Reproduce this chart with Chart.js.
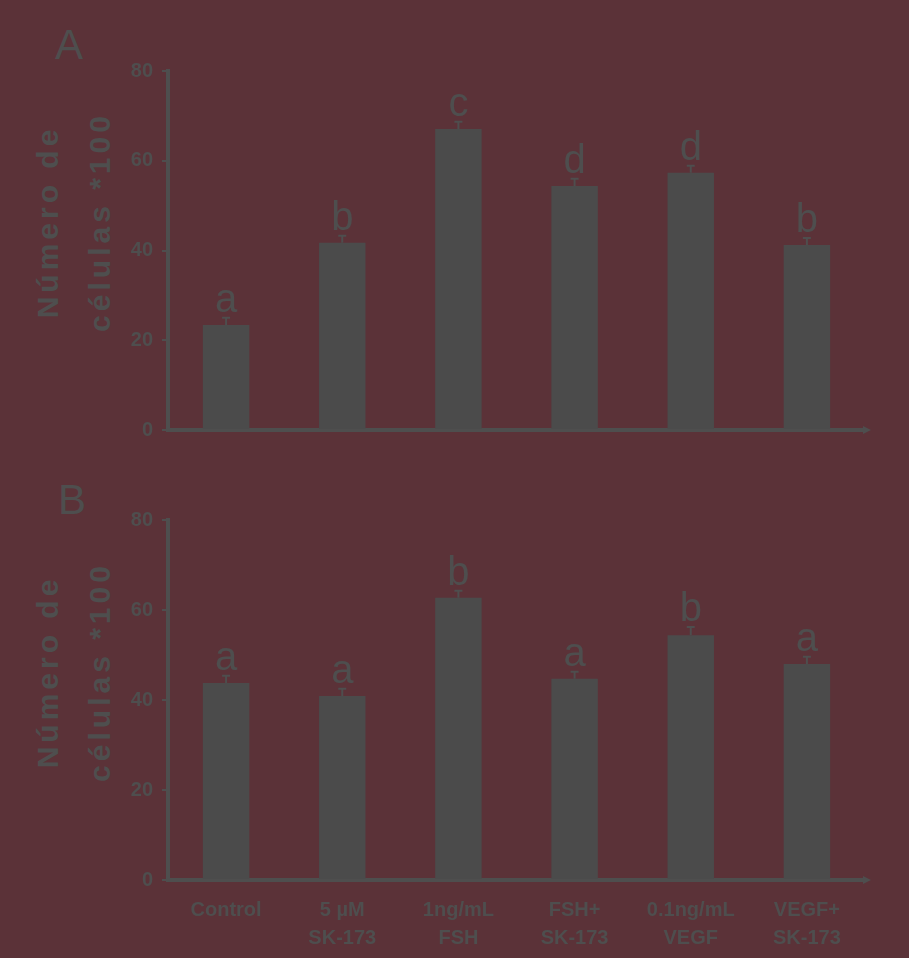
<!DOCTYPE html>
<html>
<head>
<meta charset="utf-8">
<script src="https://cdn.jsdelivr.net/npm/chart.js@4.4.1/dist/chart.umd.min.js"></script>
<style>
  html, body { margin: 0; padding: 0; background: #5b3238; }
  #wrap { position: relative; width: 909px; height: 958px; overflow: hidden; background: #5b3238; }
  canvas { position: absolute; left: 0; }
  .panel { position: absolute; font-family: "Liberation Sans", Arial, sans-serif; color: #4e4e4e; font-size: 42px; line-height: 1; }
  .ytitle { position: absolute; font-family: "Liberation Sans", Arial, sans-serif; color: #4e4e4e; font-weight: bold;
            font-size: 30px; letter-spacing: 4px; line-height: 52px; text-align: center; white-space: nowrap;
            transform: translate(-50%, -50%) rotate(-90deg); }
</style>
</head>
<body>
<div id="wrap">
  <div class="panel" style="left:55px; top:24px;">A</div>
  <div class="ytitle" style="left:74px; top:222px;">Número de<br>células *100</div>
  <canvas id="chartA" width="909" height="470" style="top:0px;"></canvas>

  <div class="panel" style="left:58px; top:479px;">B</div>
  <div class="ytitle" style="left:74px; top:672px;">Número de<br>células *100</div>
  <canvas id="chartB" width="909" height="488" style="top:470px;"></canvas>
</div>
<script>
// Treatments along the x axis
const categories = [
  ["Control"],
  ["5 µM", "SK-173"],
  ["1ng/mL", "FSH"],
  ["FSH+", "SK-173"],
  ["0.1ng/mL", "VEGF"],
  ["VEGF+", "SK-173"]
];

// Panel A: cell counts (x100), error and significance groups
const cellsA   = [23.4, 41.7, 67.1, 54.4, 57.3, 41.2];
const errorsA  = [1.6, 1.6, 1.6, 1.6, 1.6, 1.6];
const lettersA = ["a", "b", "c", "d", "d", "b"];

// Panel B: cell counts (x100), error and significance groups
const cellsB   = [43.8, 40.9, 62.7, 44.7, 54.4, 48.0];
const errorsB  = [1.6, 1.6, 1.6, 1.6, 1.8, 1.6];
const lettersB = ["a", "a", "b", "a", "b", "a"];

// Value axis
const yTicks = [0, 20, 40, 60, 80];

const INK = "#4e4e4e";
const BAR = "#4b4b4b";
const FONT = '"Liberation Sans", Arial, sans-serif';

// Draws error caps, group letters above bars and an arrowhead on the x axis
const annotate = {
  id: "annotate",
  afterDatasetsDraw(chart, args, opts) {
    const ctx = chart.ctx;
    const y = chart.scales.y;
    const meta = chart.getDatasetMeta(0);
    ctx.save();
    ctx.strokeStyle = INK;
    ctx.fillStyle = INK;
    ctx.lineWidth = 2;
    meta.data.forEach((bar, i) => {
      const v = opts.values[i], e = opts.errors[i];
      const top = y.getPixelForValue(v + e);
      ctx.beginPath();
      ctx.moveTo(bar.x, y.getPixelForValue(v));
      ctx.lineTo(bar.x, top);
      ctx.moveTo(bar.x - 4, top);
      ctx.lineTo(bar.x + 4, top);
      ctx.stroke();
      ctx.font = "40px " + FONT;
      ctx.textAlign = "center";
      ctx.textBaseline = "alphabetic";
      ctx.fillText(opts.letters[i], bar.x, top - 6);
    });
    const { right, bottom } = chart.chartArea;
    ctx.beginPath();
    ctx.moveTo(right + 6, bottom);
    ctx.lineTo(right - 2, bottom - 4);
    ctx.lineTo(right - 2, bottom + 4);
    ctx.closePath();
    ctx.fill();
    ctx.restore();
  }
};

function makeChart(id, values, errors, letters, padTop, xHeight, showX) {
  return new Chart(document.getElementById(id), {
    type: "bar",
    data: {
      labels: categories,
      datasets: [{
        data: values,
        backgroundColor: BAR,
        borderWidth: 0,
        barPercentage: 0.4,
        categoryPercentage: 1.0
      }]
    },
    options: {
      responsive: false,
      animation: false,
      devicePixelRatio: 1,
      layout: { padding: { top: padTop, right: 44, left: 0, bottom: 0 } },
      plugins: {
        legend: { display: false },
        tooltip: { enabled: false },
        annotate: { values: values, errors: errors, letters: letters }
      },
      scales: {
        x: {
          grid: { display: false, drawTicks: false },
          border: { display: true, color: INK, width: 4 },
          ticks: {
            display: showX,
            color: INK,
            font: { family: FONT, size: 20, weight: "bold", lineHeight: 1.4 },
            padding: 16,
            maxRotation: 0,
            autoSkip: false
          },
          afterFit(scale) { scale.height = xHeight; }
        },
        y: {
          min: yTicks[0],
          max: yTicks[yTicks.length - 1],
          afterBuildTicks(scale) { scale.ticks = yTicks.map(v => ({ value: v })); },
          grid: { display: true, drawOnChartArea: false, drawTicks: true, tickLength: 6, color: INK, lineWidth: 2 },
          border: { display: true, color: INK, width: 4 },
          ticks: { color: INK, font: { family: FONT, size: 20, weight: "bold" }, padding: 9 },
          afterFit(scale) { scale.width = 168; }
        }
      }
    },
    plugins: [annotate]
  });
}

makeChart("chartA", cellsA, errorsA, lettersA, 71, 40, false);
makeChart("chartB", cellsB, errorsB, lettersB, 50, 78, true);
</script>
</body>
</html>
